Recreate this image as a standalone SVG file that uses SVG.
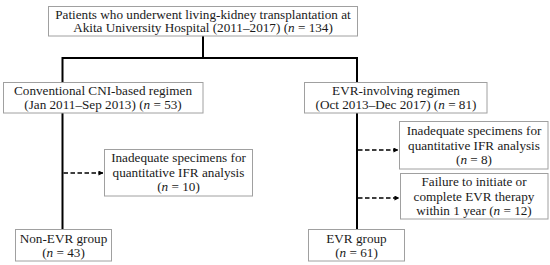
<svg xmlns="http://www.w3.org/2000/svg" width="550" height="265" viewBox="0 0 550 265">
<defs>
<style>
.box{fill:#fff;stroke:#a0a0a0;stroke-width:1}
text{font-family:"Liberation Serif","Times New Roman",serif;font-size:13.2px;fill:#1a1a1a;text-anchor:middle}
.it{font-style:italic}
.solid{stroke:#000;stroke-width:2;fill:none}
.dash{stroke:#000;stroke-width:1.5;fill:none;stroke-dasharray:4.5 2.5}
</style>
<marker id="ah" viewBox="0 0 6 6" refX="5.5" refY="3" markerWidth="5" markerHeight="5" orient="auto" markerUnits="userSpaceOnUse">
<path d="M0,0 L6,3 L0,6 z" fill="#000"/>
</marker>
</defs>
<rect width="550" height="265" fill="#fff"/>
<g id="connectors">
<path class="solid" d="M203,36 V58 M62.5,58 H357.5 M62.5,57 V82 M357,57 V82 M62.5,113 V229 M357,113 V229"/>
<path class="dash" d="M63.5,173 H103" marker-end="url(#ah)"/>
<path class="dash" d="M358,150 H398" marker-end="url(#ah)"/>
<path class="dash" d="M358,198 H399" marker-end="url(#ah)"/>
</g>
<g id="top">
<rect class="box" x="48.5" y="6.5" width="309" height="29.5"/>
<text x="203" y="18.5">Patients who underwent living-kidney transplantation at</text>
<text x="203" y="32">Akita University Hospital (2011–2017) (<tspan class="it">n</tspan> = 134)</text>
</g>
<g id="conventional">
<rect class="box" x="3.5" y="82.5" width="199.5" height="30.5"/>
<text x="103" y="95">Conventional CNI-based regimen</text>
<text x="103" y="109">(Jan 2011–Sep 2013) (<tspan class="it">n</tspan> = 53)</text>
</g>
<g id="evr-regimen">
<rect class="box" x="304.5" y="82.5" width="182.5" height="30.5"/>
<text x="396" y="95">EVR-involving regimen</text>
<text x="396" y="109">(Oct 2013–Dec 2017) (<tspan class="it">n</tspan> = 81)</text>
</g>
<g id="excl-left">
<rect class="box" x="104.5" y="149.5" width="148" height="46.5"/>
<text x="178.5" y="162">Inadequate specimens for</text>
<text x="178.5" y="177">quantitative IFR analysis</text>
<text x="178.5" y="191">(<tspan class="it">n</tspan> = 10)</text>
</g>
<g id="excl-right1">
<rect class="box" x="399.5" y="121.5" width="148.5" height="47.5"/>
<text x="474" y="134.5">Inadequate specimens for</text>
<text x="474" y="149.5">quantitative IFR analysis</text>
<text x="474" y="164">(<tspan class="it">n</tspan> = 8)</text>
</g>
<g id="excl-right2">
<rect class="box" x="400.5" y="173.5" width="147.5" height="45.5"/>
<text x="474" y="186">Failure to initiate or</text>
<text x="474" y="200.5">complete EVR therapy</text>
<text x="474" y="215">within 1 year (<tspan class="it">n</tspan> = 12)</text>
</g>
<g id="non-evr">
<rect class="box" x="15.5" y="229.5" width="96" height="31.5"/>
<text x="63.5" y="242.5">Non-EVR group</text>
<text x="63.5" y="257">(<tspan class="it">n</tspan> = 43)</text>
</g>
<g id="evr-group">
<rect class="box" x="308.5" y="229.5" width="96" height="31.5"/>
<text x="356.5" y="242.5">EVR group</text>
<text x="356.5" y="257">(<tspan class="it">n</tspan> = 61)</text>
</g>
</svg>
